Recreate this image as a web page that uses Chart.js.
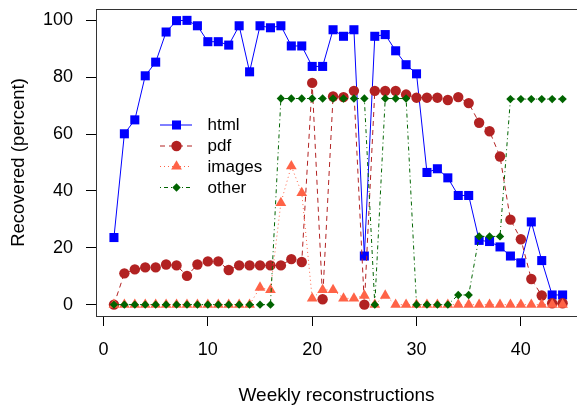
<!DOCTYPE html>
<html>
<head>
<meta charset="utf-8">
<script src="https://cdn.jsdelivr.net/npm/chart.js@4.4.1/dist/chart.umd.min.js"></script>
<style>
  html, body { margin: 0; padding: 0; background: #fff; }
  canvas { display: block; }
</style>
</head>
<body>
<canvas id="recoveryChart" width="577" height="410"></canvas>
<script>
// weekly reconstruction numbers
const weeks = [1, 2, 3, 4, 5, 6, 7, 8, 9, 10, 11, 12, 13, 14, 15, 16, 17, 18, 19, 20, 21, 22,
  23, 24, 25, 26, 27, 28, 29, 30, 31, 32, 33, 34, 35, 36, 37, 38, 39, 40, 41, 42, 43, 44];

// percent recovered per type
const htmlVals = [23.6, 60.1, 65, 80.5, 85.3, 95.9, 99.9, 100, 98.1, 92.5, 92.5, 91.3, 98.1, 81.9,
  98.1, 97.4, 98.1, 91, 91, 83.8, 83.8, 96.7, 94.4, 96.7, 17.1, 94.4, 95, 89.3, 84.4, 81.2,
  46.5, 47.8, 44.6, 38.4, 38.4, 22.6, 22.2, 20.3, 17.1, 14.7, 29.1, 15.5, 3.4, 3.4];
const pdfVals = [0, 11, 12.4, 13.1, 13.1, 14.1, 13.8, 10.1, 14.1, 15.2, 15.2, 12.2, 13.8, 13.8,
  13.8, 13.8, 13.8, 16, 15, 78, 1.9, 73.2, 73, 75.2, 0, 75.2, 75.2, 75.2, 73.9, 72.8,
  72.8, 72.8, 72, 73, 70.9, 64, 61, 52.1, 29.9, 23, 9, 3.2, 0.5, 0.5];
const imagesVals = [0, 0, 0, 0, 0, 0, 0, 0, 0, 0, 0, 0, 0, 0,
  6, 5.2, 35.8, 48.7, 39.3, 2.2, 5.2, 5.2, 2.2, 2.2, 3.2, 0, 3.2, 0, 0, 0,
  0, 0, 0, 0, 0, 0, 0, 0, 0, 0, 0, 0, 0, 0];
const otherVals = [0, 0, 0, 0, 0, 0, 0, 0, 0, 0, 0, 0, 0, 0,
  0, 0, 72.5, 72.5, 72.5, 72.5, 72.5, 72.5, 72.5, 72.5, 72.5, 0, 72.5, 72.5, 72.5, 0,
  0, 0, 0, 3.4, 3.4, 24, 24, 24, 72.3, 72.3, 72.3, 72.3, 72.3, 72.3];

const xTicks = [0, 10, 20, 30, 40];
const yTicks = [0, 20, 40, 60, 80, 100];

const FONT = "'Liberation Sans', Arial, Helvetica, sans-serif";

function toPoints(vals) {
  return vals.map((v, i) => ({ x: weeks[i], y: v }));
}

function series(label, vals, color, style, radius, dash, order) {
  return {
    label: label,
    data: toPoints(vals),
    borderColor: color,
    backgroundColor: color,
    borderWidth: 1,
    borderDash: dash,
    pointStyle: style,
    pointRadius: radius,
    pointHoverRadius: radius,
    pointBorderWidth: 0,
    pointBackgroundColor: color,
    tension: 0,
    order: order
  };
}

const datasets = [
  series('html', htmlVals, '#0000ff', 'rect', 6.4, [], 4),
  series('pdf', pdfVals, '#b22222', 'circle', 5.2, [5, 4], 3),
  series('images', imagesVals, '#ff6347', 'triangle', 6.2, [1, 3], 2),
  series('other', otherVals, '#006400', 'rectRot', 4.2, [1, 3, 4, 3], 1)
];

// no extra room for overhanging tick labels: plot box sits where R put it
function fixBox(s, w, h) {
  if (w !== null) s.width = w;
  if (h !== null) s.height = h;
  s.paddingTop = 0;
  s.paddingBottom = 0;
  s.paddingLeft = 0;
  s.paddingRight = 0;
}

// box round the plot, like R's default frame
const framePlugin = {
  id: 'frame',
  afterDraw(chart) {
    const { ctx, chartArea: a } = chart;
    ctx.save();
    ctx.strokeStyle = '#333';
    ctx.lineWidth = 1;
    ctx.strokeRect(Math.round(a.left) + 0.5, Math.round(a.top) + 0.5,
      Math.round(a.right - a.left), Math.round(a.bottom - a.top));
    ctx.restore();
  }
};

// legend inside the plot: line sample + marker + name
const legendPlugin = {
  id: 'insideLegend',
  afterDraw(chart) {
    const ctx = chart.ctx;
    const x0 = 160, x1 = 192, xm = 176.5, xt = 207.5;
    const rows = [124.5, 145.5, 166, 187];
    ctx.save();
    chart.data.datasets.forEach((ds, i) => {
      const y = rows[i];
      ctx.strokeStyle = ds.borderColor;
      ctx.lineWidth = 1;
      ctx.setLineDash(ds.borderDash);
      ctx.beginPath();
      ctx.moveTo(x0, y + 0.5);
      ctx.lineTo(x1, y + 0.5);
      ctx.stroke();
      ctx.setLineDash([]);
      ctx.fillStyle = ds.backgroundColor;
      Chart.helpers.drawPoint(ctx, {
        pointStyle: ds.pointStyle, radius: ds.pointRadius, rotation: 0, borderWidth: 0
      }, xm, y + 0.5);
      ctx.fillStyle = '#000';
      ctx.font = '17px ' + FONT;
      ctx.textBaseline = 'middle';
      ctx.textAlign = 'left';
      ctx.fillText(ds.label, xt, y + 1);
    });
    ctx.restore();
  }
};

new Chart(document.getElementById('recoveryChart'), {
  type: 'line',
  data: { datasets: datasets },
  options: {
    responsive: false,
    animation: false,
    devicePixelRatio: 1,
    layout: { autoPadding: false, padding: { left: 0, top: 9, right: 0, bottom: 0 } },
    plugins: {
      legend: { display: false },
      tooltip: { enabled: false }
    },
    scales: {
      x: {
        type: 'linear',
        min: -0.72,
        max: 45.38,
        afterBuildTicks: s => { s.ticks = xTicks.map(v => ({ value: v })); },
        afterFit: s => fixBox(s, null, 94),
        grid: { display: true, drawOnChartArea: false, drawTicks: true, tickLength: 10, color: '#000' },
        border: { display: true, color: '#333' },
        ticks: { color: '#000', font: { family: FONT, size: 18 }, padding: 13, maxRotation: 0 },
        title: {
          display: true, text: 'Weekly reconstructions', color: '#000',
          font: { family: FONT, size: 19 }, padding: { top: 0, bottom: 3 }
        }
      },
      y: {
        min: -4,
        max: 104,
        afterBuildTicks: s => { s.ticks = yTicks.map(v => ({ value: v })); },
        afterFit: s => fixBox(s, 96, null),
        grid: { display: true, drawOnChartArea: false, drawTicks: true, tickLength: 10, color: '#000' },
        border: { display: true, color: '#333' },
        ticks: { color: '#000', font: { family: FONT, size: 18 }, padding: 13 },
        title: {
          display: true, text: 'Recovered (percent)', color: '#000',
          font: { family: FONT, size: 18.5 }, padding: { top: 8, bottom: 0 }
        }
      }
    }
  },
  plugins: [framePlugin, legendPlugin]
});
</script>
</body>
</html>
